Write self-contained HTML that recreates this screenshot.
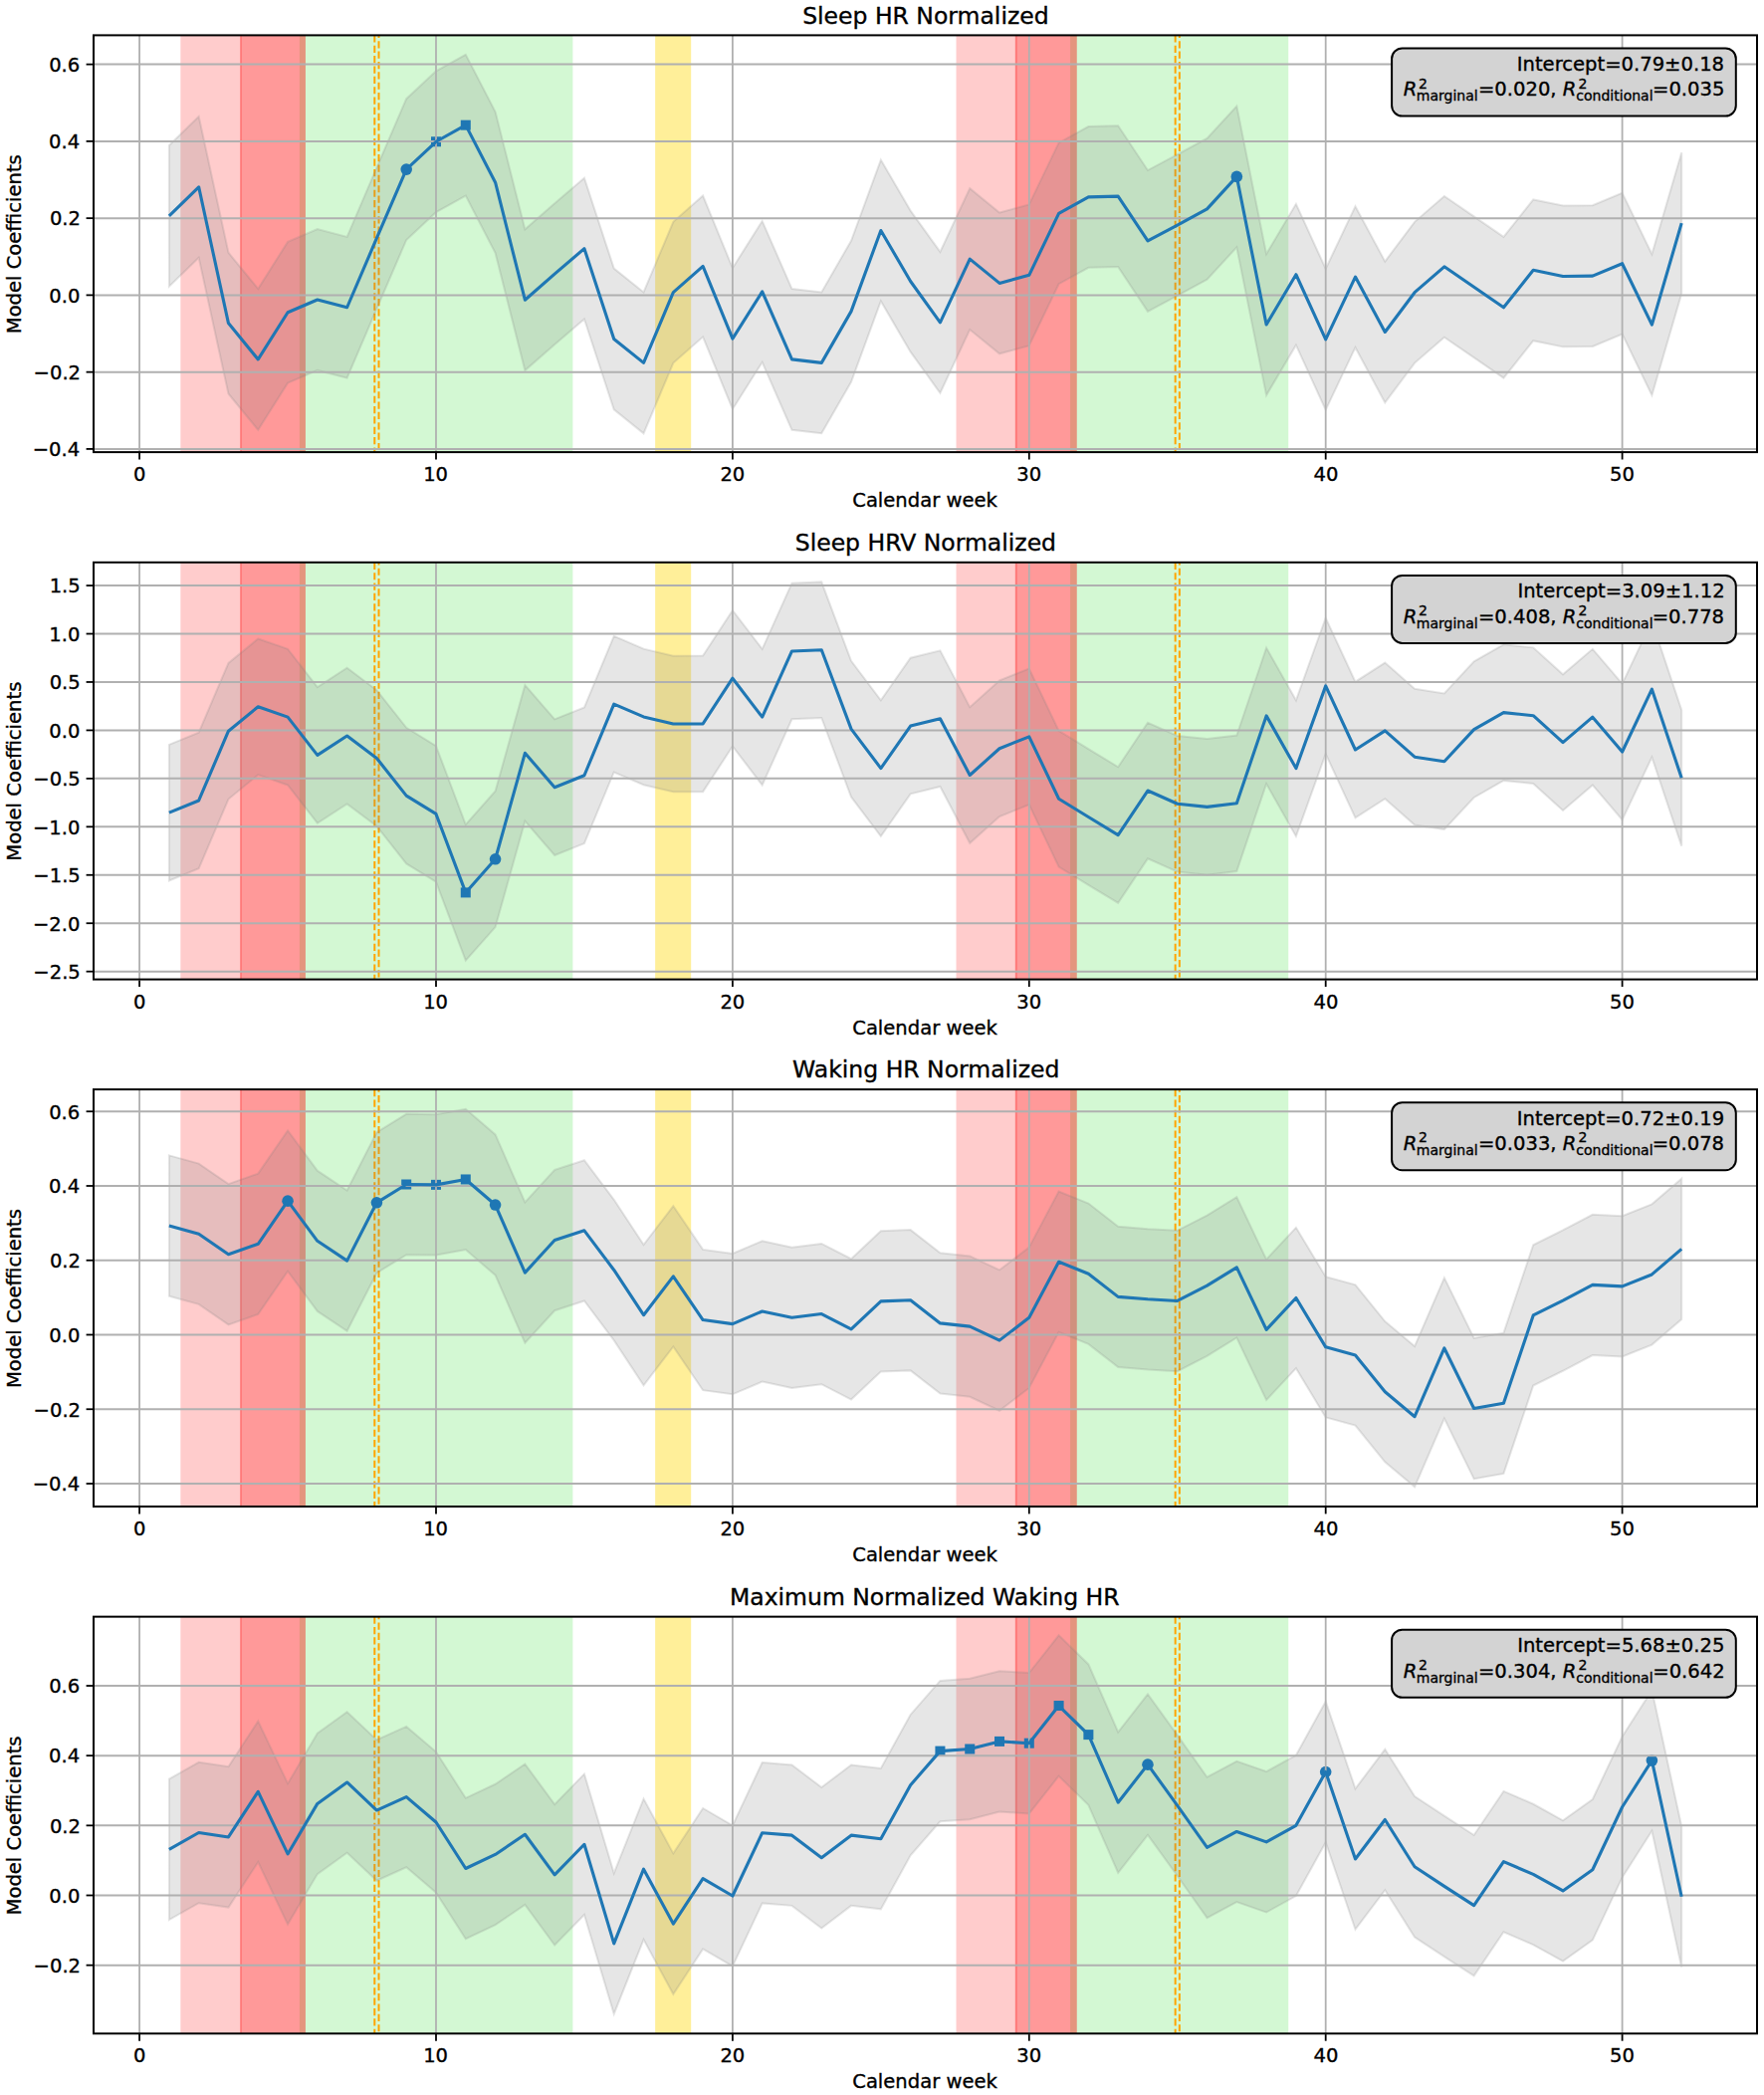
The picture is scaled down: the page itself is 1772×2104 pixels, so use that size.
<!DOCTYPE html>
<html><head><meta charset="utf-8"><title>Model Coefficients by Calendar week</title>
<style>html,body{margin:0;padding:0;background:#fff}svg{display:block}text{stroke:#000;stroke-width:.35px}</style></head>
<body>
<svg width="1772" height="2104" viewBox="0 0 1772 2104" font-family='"DejaVu Sans","Liberation Sans",sans-serif' font-size="20" fill="#000">
<rect width="1772" height="2104" fill="#fff"/>
<defs>
<clipPath id="c0"><rect x="94.0" y="35.4" width="1671.00" height="418.70"/></clipPath>
<clipPath id="c1"><rect x="94.0" y="564.8" width="1671.00" height="418.80"/></clipPath>
<clipPath id="c2"><rect x="94.0" y="1094.1" width="1671.00" height="418.90"/></clipPath>
<clipPath id="c3"><rect x="94.0" y="1623.65" width="1671.00" height="418.65"/></clipPath>
</defs>
<g clip-path="url(#c0)">
<rect x="300.88" y="35.4" width="274.46" height="418.70" fill="#90ee90" fill-opacity="0.4"/>
<rect x="1075.06" y="35.4" width="219.19" height="418.70" fill="#90ee90" fill-opacity="0.4"/>
<rect x="658.15" y="35.4" width="36.05" height="418.70" fill="#ffd700" fill-opacity="0.4"/>
<rect x="181.33" y="35.4" width="61.67" height="418.70" fill="#ff0000" fill-opacity="0.2"/>
<rect x="241.18" y="35.4" width="65.75" height="418.70" fill="#ff0000" fill-opacity="0.4"/>
<rect x="960.52" y="35.4" width="61.37" height="418.70" fill="#ff0000" fill-opacity="0.2"/>
<rect x="1019.80" y="35.4" width="61.96" height="418.70" fill="#ff0000" fill-opacity="0.4"/>
<line x1="376.30" x2="376.30" y1="35.4" y2="454.1" stroke="#ffa500" stroke-width="2" stroke-dasharray="7.22 3.13" stroke-dashoffset="0"/>
<line x1="380.51" x2="380.51" y1="35.4" y2="454.1" stroke="#ffa500" stroke-width="2" stroke-dasharray="7.22 3.13" stroke-dashoffset="4.5"/>
<line x1="1180.66" x2="1180.66" y1="35.4" y2="454.1" stroke="#ffa500" stroke-width="2" stroke-dasharray="7.22 3.13" stroke-dashoffset="0"/>
<line x1="1184.84" x2="1184.84" y1="35.4" y2="454.1" stroke="#ffa500" stroke-width="2" stroke-dasharray="7.22 3.13" stroke-dashoffset="4.5"/>
<polygon points="169.89,145.94 199.68,116.96 229.47,253.71 259.26,290.03 289.05,242.90 318.84,230.15 348.63,237.88 378.42,168.34 408.21,99.19 438.00,71.38 467.79,54.77 497.58,112.33 527.37,230.34 557.16,204.27 586.95,178.77 616.74,269.55 646.53,293.50 676.32,222.81 706.11,196.54 735.90,269.17 765.69,222.04 795.48,290.03 825.27,293.50 855.06,241.74 884.85,160.62 914.64,211.61 944.43,252.94 974.22,189.20 1004.01,213.54 1033.80,205.43 1063.59,143.43 1093.38,127.01 1123.17,126.23 1152.96,171.05 1182.75,155.21 1212.54,138.98 1242.33,106.53 1272.12,255.10 1301.91,204.85 1331.70,269.94 1361.49,207.16 1391.28,262.60 1421.07,222.81 1450.86,196.93 1480.65,217.40 1510.44,237.88 1540.23,200.40 1570.02,206.59 1599.81,206.20 1629.60,193.84 1659.39,255.26 1689.18,153.28 1689.18,295.05 1659.39,397.03 1629.60,335.61 1599.81,347.97 1570.02,348.36 1540.23,342.18 1510.44,379.65 1480.65,359.17 1450.86,338.70 1421.07,364.58 1391.28,404.37 1361.49,348.94 1331.70,411.71 1301.91,346.62 1272.12,396.88 1242.33,248.31 1212.54,280.75 1182.75,296.98 1152.96,312.82 1123.17,268.01 1093.38,268.78 1063.59,285.20 1033.80,347.20 1004.01,355.31 974.22,330.97 944.43,394.71 914.64,353.38 884.85,302.39 855.06,383.51 825.27,435.27 795.48,431.80 765.69,363.81 735.90,410.94 706.11,338.31 676.32,364.58 646.53,435.27 616.74,411.32 586.95,320.54 557.16,346.04 527.37,372.11 497.58,254.10 467.79,196.54 438.00,213.15 408.21,240.97 378.42,310.11 348.63,379.65 318.84,371.92 289.05,384.67 259.26,431.80 229.47,395.49 199.68,258.74 169.89,287.71" fill="#808080" fill-opacity="0.2" stroke="#808080" stroke-opacity="0.2" stroke-width="2" stroke-linejoin="miter"/>
<circle cx="408.21" cy="170.08" r="5.8" fill="#1f77b4"/>
<circle cx="1242.33" cy="177.42" r="5.8" fill="#1f77b4"/>
<rect x="433.00" y="137.27" width="10" height="10" fill="#1f77b4"/>
<rect x="462.79" y="120.66" width="10" height="10" fill="#1f77b4"/>
<line x1="140.10" x2="140.10" y1="35.4" y2="454.1" stroke="#b0b0b0" stroke-width="1.8"/>
<line x1="438.00" x2="438.00" y1="35.4" y2="454.1" stroke="#b0b0b0" stroke-width="1.8"/>
<line x1="735.90" x2="735.90" y1="35.4" y2="454.1" stroke="#b0b0b0" stroke-width="1.8"/>
<line x1="1033.80" x2="1033.80" y1="35.4" y2="454.1" stroke="#b0b0b0" stroke-width="1.8"/>
<line x1="1331.70" x2="1331.70" y1="35.4" y2="454.1" stroke="#b0b0b0" stroke-width="1.8"/>
<line x1="1629.60" x2="1629.60" y1="35.4" y2="454.1" stroke="#b0b0b0" stroke-width="1.8"/>
<line x1="94.0" x2="1765.0" y1="64.62" y2="64.62" stroke="#b0b0b0" stroke-width="2"/>
<line x1="94.0" x2="1765.0" y1="141.88" y2="141.88" stroke="#b0b0b0" stroke-width="2"/>
<line x1="94.0" x2="1765.0" y1="219.14" y2="219.14" stroke="#b0b0b0" stroke-width="2"/>
<line x1="94.0" x2="1765.0" y1="296.40" y2="296.40" stroke="#b0b0b0" stroke-width="2"/>
<line x1="94.0" x2="1765.0" y1="373.66" y2="373.66" stroke="#b0b0b0" stroke-width="2"/>
<line x1="94.0" x2="1765.0" y1="450.92" y2="450.92" stroke="#b0b0b0" stroke-width="2"/>
<polyline points="169.89,216.82 199.68,187.85 229.47,324.60 259.26,360.91 289.05,313.78 318.84,301.04 348.63,308.76 378.42,239.23 408.21,170.08 438.00,142.27 467.79,125.66 497.58,183.21 527.37,301.23 557.16,275.15 586.95,249.66 616.74,340.44 646.53,364.39 676.32,293.70 706.11,267.43 735.90,340.05 765.69,292.92 795.48,360.91 825.27,364.39 855.06,312.62 884.85,231.50 914.64,282.49 944.43,323.83 974.22,260.09 1004.01,284.42 1033.80,276.31 1063.59,214.31 1093.38,197.89 1123.17,197.12 1152.96,241.93 1182.75,226.09 1212.54,209.87 1242.33,177.42 1272.12,325.99 1301.91,275.73 1331.70,340.82 1361.49,278.05 1391.28,333.48 1421.07,293.70 1450.86,267.81 1480.65,288.29 1510.44,308.76 1540.23,271.29 1570.02,277.47 1599.81,277.08 1629.60,264.72 1659.39,326.15 1689.18,224.16" fill="none" stroke="#1f77b4" stroke-width="3.1" stroke-linejoin="round" stroke-linecap="butt"/>
</g>
<rect x="94.0" y="35.4" width="1671.00" height="418.70" fill="none" stroke="#000" stroke-width="2"/>
<line x1="140.10" x2="140.10" y1="454.90" y2="461.50" stroke="#000" stroke-width="1.8"/>
<text transform="translate(133.88,483.10)" font-size="19.57">0</text>
<line x1="438.00" x2="438.00" y1="454.90" y2="461.50" stroke="#000" stroke-width="1.8"/>
<text transform="translate(425.16,483.10)" font-size="19.57">10</text>
<line x1="735.90" x2="735.90" y1="454.90" y2="461.50" stroke="#000" stroke-width="1.8"/>
<text transform="translate(723.40,483.10)" font-size="19.57">20</text>
<line x1="1033.80" x2="1033.80" y1="454.90" y2="461.50" stroke="#000" stroke-width="1.8"/>
<text transform="translate(1021.27,483.10)" font-size="19.57">30</text>
<line x1="1331.70" x2="1331.70" y1="454.90" y2="461.50" stroke="#000" stroke-width="1.8"/>
<text transform="translate(1319.45,483.10)" font-size="19.57">40</text>
<line x1="1629.60" x2="1629.60" y1="454.90" y2="461.50" stroke="#000" stroke-width="1.8"/>
<text transform="translate(1617.07,483.10)" font-size="19.57">50</text>
<line x1="86.60" x2="93.20" y1="64.62" y2="64.62" stroke="#000" stroke-width="1.8"/>
<text transform="translate(49.16,71.92)" font-size="19.57">0.6</text>
<line x1="86.60" x2="93.20" y1="141.88" y2="141.88" stroke="#000" stroke-width="1.8"/>
<text transform="translate(49.04,149.18)" font-size="19.57">0.4</text>
<line x1="86.60" x2="93.20" y1="219.14" y2="219.14" stroke="#000" stroke-width="1.8"/>
<text transform="translate(49.91,226.44)" font-size="19.57">0.2</text>
<line x1="86.60" x2="93.20" y1="296.40" y2="296.40" stroke="#000" stroke-width="1.8"/>
<text transform="translate(49.29,303.70)" font-size="19.57">0.0</text>
<line x1="86.60" x2="93.20" y1="373.66" y2="373.66" stroke="#000" stroke-width="1.8"/>
<text transform="translate(33.54,380.96)" font-size="19.57">−0.2</text>
<line x1="86.60" x2="93.20" y1="450.92" y2="450.92" stroke="#000" stroke-width="1.8"/>
<text transform="translate(32.66,458.22)" font-size="19.57">−0.4</text>
<text transform="translate(806.13,23.70)" font-size="23.5">Sleep HR Normalized</text>
<text transform="translate(856.22,509.10)" font-size="19.57">Calendar week</text>
<text transform="translate(20.80,335.25) rotate(-90)" font-size="19.57">Model Coefficients</text>
<rect x="1398.1" y="48.50" width="345.7" height="68.0" rx="10.5" ry="10.5" fill="#d3d3d3" stroke="#000" stroke-width="2"/>
<text transform="translate(1523.76,70.90)" font-size="19.57">Intercept=0.79±0.18</text>
<text transform="translate(1409.80,96.40)" font-size="19.57" font-style="italic">R</text>
<text transform="translate(1424.90,88.60)" font-size="14.0">2</text>
<text transform="translate(1422.85,101.30)" font-size="14.0">marginal</text>
<text transform="translate(1484.94,96.40)" font-size="19.57">=0.020,</text>
<text transform="translate(1569.80,96.40)" font-size="19.57" font-style="italic">R</text>
<text transform="translate(1585.60,88.60)" font-size="14.0">2</text>
<text transform="translate(1583.35,101.30)" font-size="14.0">conditional</text>
<text transform="translate(1660.01,96.40)" font-size="19.57">=0.035</text>
<g clip-path="url(#c1)">
<rect x="300.88" y="564.8" width="274.46" height="418.80" fill="#90ee90" fill-opacity="0.4"/>
<rect x="1075.06" y="564.8" width="219.19" height="418.80" fill="#90ee90" fill-opacity="0.4"/>
<rect x="658.15" y="564.8" width="36.05" height="418.80" fill="#ffd700" fill-opacity="0.4"/>
<rect x="181.33" y="564.8" width="61.67" height="418.80" fill="#ff0000" fill-opacity="0.2"/>
<rect x="241.18" y="564.8" width="65.75" height="418.80" fill="#ff0000" fill-opacity="0.4"/>
<rect x="960.52" y="564.8" width="61.37" height="418.80" fill="#ff0000" fill-opacity="0.2"/>
<rect x="1019.80" y="564.8" width="61.96" height="418.80" fill="#ff0000" fill-opacity="0.4"/>
<line x1="376.30" x2="376.30" y1="564.8" y2="983.6" stroke="#ffa500" stroke-width="2" stroke-dasharray="7.22 3.13" stroke-dashoffset="0"/>
<line x1="380.51" x2="380.51" y1="564.8" y2="983.6" stroke="#ffa500" stroke-width="2" stroke-dasharray="7.22 3.13" stroke-dashoffset="4.5"/>
<line x1="1180.66" x2="1180.66" y1="564.8" y2="983.6" stroke="#ffa500" stroke-width="2" stroke-dasharray="7.22 3.13" stroke-dashoffset="0"/>
<line x1="1184.84" x2="1184.84" y1="564.8" y2="983.6" stroke="#ffa500" stroke-width="2" stroke-dasharray="7.22 3.13" stroke-dashoffset="4.5"/>
<polygon points="169.89,747.86 199.68,735.65 229.47,665.88 259.26,641.46 289.05,651.83 318.84,690.11 348.63,670.73 378.42,693.11 408.21,730.80 438.00,749.12 467.79,828.09 497.58,794.47 527.37,688.02 557.16,722.37 586.95,710.45 616.74,638.85 646.53,651.64 676.32,658.71 706.11,658.52 735.90,612.88 765.69,651.83 795.48,585.65 825.27,584.39 855.06,663.85 884.85,703.28 914.64,660.74 944.43,653.38 974.22,710.16 1004.01,683.42 1033.80,671.50 1063.59,733.90 1093.38,752.22 1123.17,770.24 1152.96,725.72 1182.75,738.94 1212.54,742.04 1242.33,738.46 1272.12,650.57 1301.91,703.28 1331.70,620.53 1361.49,684.68 1391.28,665.59 1421.07,691.85 1450.86,696.40 1480.65,664.33 1510.44,647.28 1540.23,650.38 1570.02,677.31 1599.81,651.83 1629.60,686.71 1659.39,623.83 1689.18,712.97 1689.18,849.60 1659.39,760.46 1629.60,823.34 1599.81,788.46 1570.02,813.94 1540.23,787.01 1510.44,783.90 1480.65,800.96 1450.86,833.03 1421.07,828.48 1391.28,802.22 1361.49,821.31 1331.70,757.16 1301.91,839.91 1272.12,787.20 1242.33,875.09 1212.54,878.67 1182.75,875.57 1152.96,862.35 1123.17,906.87 1093.38,888.85 1063.59,870.53 1033.80,808.13 1004.01,820.05 974.22,846.79 944.43,790.01 914.64,797.37 884.85,839.91 855.06,800.47 825.27,721.02 795.48,722.28 765.69,788.46 735.90,749.51 706.11,795.15 676.32,795.34 646.53,788.27 616.74,775.47 586.95,847.08 557.16,859.00 527.37,824.65 497.58,931.10 467.79,964.72 438.00,885.75 408.21,867.43 378.42,829.74 348.63,807.35 318.84,826.73 289.05,788.46 259.26,778.09 229.47,802.51 199.68,872.28 169.89,884.49" fill="#808080" fill-opacity="0.2" stroke="#808080" stroke-opacity="0.2" stroke-width="2" stroke-linejoin="miter"/>
<circle cx="497.58" cy="862.78" r="5.8" fill="#1f77b4"/>
<rect x="462.79" y="891.41" width="10" height="10" fill="#1f77b4"/>
<line x1="140.10" x2="140.10" y1="564.8" y2="983.6" stroke="#b0b0b0" stroke-width="1.8"/>
<line x1="438.00" x2="438.00" y1="564.8" y2="983.6" stroke="#b0b0b0" stroke-width="1.8"/>
<line x1="735.90" x2="735.90" y1="564.8" y2="983.6" stroke="#b0b0b0" stroke-width="1.8"/>
<line x1="1033.80" x2="1033.80" y1="564.8" y2="983.6" stroke="#b0b0b0" stroke-width="1.8"/>
<line x1="1331.70" x2="1331.70" y1="564.8" y2="983.6" stroke="#b0b0b0" stroke-width="1.8"/>
<line x1="1629.60" x2="1629.60" y1="564.8" y2="983.6" stroke="#b0b0b0" stroke-width="1.8"/>
<line x1="94.0" x2="1765.0" y1="588.07" y2="588.07" stroke="#b0b0b0" stroke-width="2"/>
<line x1="94.0" x2="1765.0" y1="636.52" y2="636.52" stroke="#b0b0b0" stroke-width="2"/>
<line x1="94.0" x2="1765.0" y1="684.97" y2="684.97" stroke="#b0b0b0" stroke-width="2"/>
<line x1="94.0" x2="1765.0" y1="733.42" y2="733.42" stroke="#b0b0b0" stroke-width="2"/>
<line x1="94.0" x2="1765.0" y1="781.87" y2="781.87" stroke="#b0b0b0" stroke-width="2"/>
<line x1="94.0" x2="1765.0" y1="830.32" y2="830.32" stroke="#b0b0b0" stroke-width="2"/>
<line x1="94.0" x2="1765.0" y1="878.77" y2="878.77" stroke="#b0b0b0" stroke-width="2"/>
<line x1="94.0" x2="1765.0" y1="927.22" y2="927.22" stroke="#b0b0b0" stroke-width="2"/>
<line x1="94.0" x2="1765.0" y1="975.67" y2="975.67" stroke="#b0b0b0" stroke-width="2"/>
<polyline points="169.89,816.17 199.68,803.96 229.47,734.20 259.26,709.78 289.05,720.14 318.84,758.42 348.63,739.04 378.42,761.42 408.21,799.12 438.00,817.43 467.79,896.41 497.58,862.78 527.37,756.34 557.16,790.69 586.95,778.77 616.74,707.16 646.53,719.95 676.32,727.02 706.11,726.83 735.90,681.19 765.69,720.14 795.48,653.96 825.27,652.70 855.06,732.16 884.85,771.60 914.64,729.06 944.43,721.70 974.22,778.48 1004.01,751.73 1033.80,739.82 1063.59,802.22 1093.38,820.53 1123.17,838.56 1152.96,794.03 1182.75,807.26 1212.54,810.36 1242.33,806.77 1272.12,718.88 1301.91,771.60 1331.70,688.85 1361.49,752.99 1391.28,733.90 1421.07,760.16 1450.86,764.72 1480.65,732.64 1510.44,715.59 1540.23,718.69 1570.02,745.63 1599.81,720.14 1629.60,755.03 1659.39,692.14 1689.18,781.29" fill="none" stroke="#1f77b4" stroke-width="3.1" stroke-linejoin="round" stroke-linecap="butt"/>
</g>
<rect x="94.0" y="564.8" width="1671.00" height="418.80" fill="none" stroke="#000" stroke-width="2"/>
<line x1="140.10" x2="140.10" y1="984.40" y2="991.00" stroke="#000" stroke-width="1.8"/>
<text transform="translate(133.88,1012.60)" font-size="19.57">0</text>
<line x1="438.00" x2="438.00" y1="984.40" y2="991.00" stroke="#000" stroke-width="1.8"/>
<text transform="translate(425.16,1012.60)" font-size="19.57">10</text>
<line x1="735.90" x2="735.90" y1="984.40" y2="991.00" stroke="#000" stroke-width="1.8"/>
<text transform="translate(723.40,1012.60)" font-size="19.57">20</text>
<line x1="1033.80" x2="1033.80" y1="984.40" y2="991.00" stroke="#000" stroke-width="1.8"/>
<text transform="translate(1021.27,1012.60)" font-size="19.57">30</text>
<line x1="1331.70" x2="1331.70" y1="984.40" y2="991.00" stroke="#000" stroke-width="1.8"/>
<text transform="translate(1319.45,1012.60)" font-size="19.57">40</text>
<line x1="1629.60" x2="1629.60" y1="984.40" y2="991.00" stroke="#000" stroke-width="1.8"/>
<text transform="translate(1617.07,1012.60)" font-size="19.57">50</text>
<line x1="86.60" x2="93.20" y1="588.07" y2="588.07" stroke="#000" stroke-width="1.8"/>
<text transform="translate(49.66,595.37)" font-size="19.57">1.5</text>
<line x1="86.60" x2="93.20" y1="636.52" y2="636.52" stroke="#000" stroke-width="1.8"/>
<text transform="translate(49.29,643.82)" font-size="19.57">1.0</text>
<line x1="86.60" x2="93.20" y1="684.97" y2="684.97" stroke="#000" stroke-width="1.8"/>
<text transform="translate(49.66,692.27)" font-size="19.57">0.5</text>
<line x1="86.60" x2="93.20" y1="733.42" y2="733.42" stroke="#000" stroke-width="1.8"/>
<text transform="translate(49.29,740.72)" font-size="19.57">0.0</text>
<line x1="86.60" x2="93.20" y1="781.87" y2="781.87" stroke="#000" stroke-width="1.8"/>
<text transform="translate(33.29,789.17)" font-size="19.57">−0.5</text>
<line x1="86.60" x2="93.20" y1="830.32" y2="830.32" stroke="#000" stroke-width="1.8"/>
<text transform="translate(32.91,837.62)" font-size="19.57">−1.0</text>
<line x1="86.60" x2="93.20" y1="878.77" y2="878.77" stroke="#000" stroke-width="1.8"/>
<text transform="translate(33.29,886.07)" font-size="19.57">−1.5</text>
<line x1="86.60" x2="93.20" y1="927.22" y2="927.22" stroke="#000" stroke-width="1.8"/>
<text transform="translate(32.91,934.52)" font-size="19.57">−2.0</text>
<line x1="86.60" x2="93.20" y1="975.67" y2="975.67" stroke="#000" stroke-width="1.8"/>
<text transform="translate(33.29,982.97)" font-size="19.57">−2.5</text>
<text transform="translate(798.73,553.10)" font-size="23.5">Sleep HRV Normalized</text>
<text transform="translate(856.22,1038.60)" font-size="19.57">Calendar week</text>
<text transform="translate(20.80,864.70) rotate(-90)" font-size="19.57">Model Coefficients</text>
<rect x="1398.1" y="577.90" width="345.7" height="68.0" rx="10.5" ry="10.5" fill="#d3d3d3" stroke="#000" stroke-width="2"/>
<text transform="translate(1524.39,600.30)" font-size="19.57">Intercept=3.09±1.12</text>
<text transform="translate(1409.80,625.80)" font-size="19.57" font-style="italic">R</text>
<text transform="translate(1424.90,618.00)" font-size="14.0">2</text>
<text transform="translate(1422.85,630.70)" font-size="14.0">marginal</text>
<text transform="translate(1484.94,625.80)" font-size="19.57">=0.408,</text>
<text transform="translate(1569.80,625.80)" font-size="19.57" font-style="italic">R</text>
<text transform="translate(1585.60,618.00)" font-size="14.0">2</text>
<text transform="translate(1583.35,630.70)" font-size="14.0">conditional</text>
<text transform="translate(1659.64,625.80)" font-size="19.57">=0.778</text>
<g clip-path="url(#c2)">
<rect x="300.88" y="1094.1" width="274.46" height="418.90" fill="#90ee90" fill-opacity="0.4"/>
<rect x="1075.06" y="1094.1" width="219.19" height="418.90" fill="#90ee90" fill-opacity="0.4"/>
<rect x="658.15" y="1094.1" width="36.05" height="418.90" fill="#ffd700" fill-opacity="0.4"/>
<rect x="181.33" y="1094.1" width="61.67" height="418.90" fill="#ff0000" fill-opacity="0.2"/>
<rect x="241.18" y="1094.1" width="65.75" height="418.90" fill="#ff0000" fill-opacity="0.4"/>
<rect x="960.52" y="1094.1" width="61.37" height="418.90" fill="#ff0000" fill-opacity="0.2"/>
<rect x="1019.80" y="1094.1" width="61.96" height="418.90" fill="#ff0000" fill-opacity="0.4"/>
<line x1="376.30" x2="376.30" y1="1094.1" y2="1513.0" stroke="#ffa500" stroke-width="2" stroke-dasharray="7.22 3.13" stroke-dashoffset="0"/>
<line x1="380.51" x2="380.51" y1="1094.1" y2="1513.0" stroke="#ffa500" stroke-width="2" stroke-dasharray="7.22 3.13" stroke-dashoffset="4.5"/>
<line x1="1180.66" x2="1180.66" y1="1094.1" y2="1513.0" stroke="#ffa500" stroke-width="2" stroke-dasharray="7.22 3.13" stroke-dashoffset="0"/>
<line x1="1184.84" x2="1184.84" y1="1094.1" y2="1513.0" stroke="#ffa500" stroke-width="2" stroke-dasharray="7.22 3.13" stroke-dashoffset="4.5"/>
<polygon points="169.89,1160.34 199.68,1168.57 229.47,1189.12 259.26,1178.66 289.05,1135.49 318.84,1175.67 348.63,1195.48 378.42,1137.17 408.21,1118.85 438.00,1119.23 467.79,1113.81 497.58,1139.41 527.37,1207.44 557.16,1174.92 586.95,1165.20 616.74,1204.82 646.53,1250.05 676.32,1211.18 706.11,1254.91 735.90,1259.02 765.69,1246.31 795.48,1252.66 825.27,1248.93 855.06,1264.25 884.85,1236.22 914.64,1235.10 944.43,1258.27 974.22,1261.45 1004.01,1275.46 1033.80,1252.66 1063.59,1196.60 1093.38,1208.56 1123.17,1231.73 1152.96,1234.16 1182.75,1235.84 1212.54,1220.52 1242.33,1202.21 1272.12,1264.77 1301.91,1232.85 1331.70,1282.19 1361.49,1290.27 1391.28,1327.04 1421.07,1352.09 1450.86,1283.31 1480.65,1343.86 1510.44,1338.63 1540.23,1250.23 1570.02,1235.47 1599.81,1219.77 1629.60,1221.27 1659.39,1209.31 1689.18,1183.67 1689.18,1324.95 1659.39,1350.59 1629.60,1362.55 1599.81,1361.06 1570.02,1376.76 1540.23,1391.52 1510.44,1479.92 1480.65,1485.15 1450.86,1424.60 1421.07,1493.37 1391.28,1468.33 1361.49,1431.55 1331.70,1423.48 1301.91,1374.14 1272.12,1406.06 1242.33,1343.49 1212.54,1361.80 1182.75,1377.13 1152.96,1375.45 1123.17,1373.02 1093.38,1349.84 1063.59,1337.88 1033.80,1393.95 1004.01,1416.75 974.22,1402.73 944.43,1399.56 914.64,1376.38 884.85,1377.50 855.06,1405.54 825.27,1390.21 795.48,1393.95 765.69,1387.60 735.90,1400.30 706.11,1396.19 676.32,1352.46 646.53,1391.33 616.74,1346.11 586.95,1306.49 557.16,1316.20 527.37,1348.72 497.58,1280.70 467.79,1255.09 438.00,1260.51 408.21,1260.14 378.42,1278.45 348.63,1336.76 318.84,1316.95 289.05,1276.77 259.26,1319.94 229.47,1330.41 199.68,1309.85 169.89,1301.63" fill="#808080" fill-opacity="0.2" stroke="#808080" stroke-opacity="0.2" stroke-width="2" stroke-linejoin="miter"/>
<circle cx="289.05" cy="1206.13" r="5.8" fill="#1f77b4"/>
<circle cx="378.42" cy="1207.81" r="5.8" fill="#1f77b4"/>
<circle cx="497.58" cy="1210.05" r="5.8" fill="#1f77b4"/>
<rect x="403.21" y="1184.50" width="10" height="10" fill="#1f77b4"/>
<rect x="433.00" y="1184.87" width="10" height="10" fill="#1f77b4"/>
<rect x="462.79" y="1179.45" width="10" height="10" fill="#1f77b4"/>
<line x1="140.10" x2="140.10" y1="1094.1" y2="1513.0" stroke="#b0b0b0" stroke-width="1.8"/>
<line x1="438.00" x2="438.00" y1="1094.1" y2="1513.0" stroke="#b0b0b0" stroke-width="1.8"/>
<line x1="735.90" x2="735.90" y1="1094.1" y2="1513.0" stroke="#b0b0b0" stroke-width="1.8"/>
<line x1="1033.80" x2="1033.80" y1="1094.1" y2="1513.0" stroke="#b0b0b0" stroke-width="1.8"/>
<line x1="1331.70" x2="1331.70" y1="1094.1" y2="1513.0" stroke="#b0b0b0" stroke-width="1.8"/>
<line x1="1629.60" x2="1629.60" y1="1094.1" y2="1513.0" stroke="#b0b0b0" stroke-width="1.8"/>
<line x1="94.0" x2="1765.0" y1="1116.24" y2="1116.24" stroke="#b0b0b0" stroke-width="2"/>
<line x1="94.0" x2="1765.0" y1="1190.99" y2="1190.99" stroke="#b0b0b0" stroke-width="2"/>
<line x1="94.0" x2="1765.0" y1="1265.75" y2="1265.75" stroke="#b0b0b0" stroke-width="2"/>
<line x1="94.0" x2="1765.0" y1="1340.50" y2="1340.50" stroke="#b0b0b0" stroke-width="2"/>
<line x1="94.0" x2="1765.0" y1="1415.25" y2="1415.25" stroke="#b0b0b0" stroke-width="2"/>
<line x1="94.0" x2="1765.0" y1="1490.01" y2="1490.01" stroke="#b0b0b0" stroke-width="2"/>
<polyline points="169.89,1230.99 199.68,1239.21 229.47,1259.77 259.26,1249.30 289.05,1206.13 318.84,1246.31 348.63,1266.12 378.42,1207.81 408.21,1189.50 438.00,1189.87 467.79,1184.45 497.58,1210.05 527.37,1278.08 557.16,1245.56 586.95,1235.84 616.74,1275.46 646.53,1320.69 676.32,1281.82 706.11,1325.55 735.90,1329.66 765.69,1316.95 795.48,1323.31 825.27,1319.57 855.06,1334.89 884.85,1306.86 914.64,1305.74 944.43,1328.91 974.22,1332.09 1004.01,1346.11 1033.80,1323.31 1063.59,1267.24 1093.38,1279.20 1123.17,1302.38 1152.96,1304.80 1182.75,1306.49 1212.54,1291.16 1242.33,1272.85 1272.12,1335.42 1301.91,1303.50 1331.70,1352.83 1361.49,1360.91 1391.28,1397.69 1421.07,1422.73 1450.86,1353.96 1480.65,1414.51 1510.44,1409.27 1540.23,1320.88 1570.02,1306.11 1599.81,1290.41 1629.60,1291.91 1659.39,1279.95 1689.18,1254.31" fill="none" stroke="#1f77b4" stroke-width="3.1" stroke-linejoin="round" stroke-linecap="butt"/>
</g>
<rect x="94.0" y="1094.1" width="1671.00" height="418.90" fill="none" stroke="#000" stroke-width="2"/>
<line x1="140.10" x2="140.10" y1="1513.80" y2="1520.40" stroke="#000" stroke-width="1.8"/>
<text transform="translate(133.88,1542.00)" font-size="19.57">0</text>
<line x1="438.00" x2="438.00" y1="1513.80" y2="1520.40" stroke="#000" stroke-width="1.8"/>
<text transform="translate(425.16,1542.00)" font-size="19.57">10</text>
<line x1="735.90" x2="735.90" y1="1513.80" y2="1520.40" stroke="#000" stroke-width="1.8"/>
<text transform="translate(723.40,1542.00)" font-size="19.57">20</text>
<line x1="1033.80" x2="1033.80" y1="1513.80" y2="1520.40" stroke="#000" stroke-width="1.8"/>
<text transform="translate(1021.27,1542.00)" font-size="19.57">30</text>
<line x1="1331.70" x2="1331.70" y1="1513.80" y2="1520.40" stroke="#000" stroke-width="1.8"/>
<text transform="translate(1319.45,1542.00)" font-size="19.57">40</text>
<line x1="1629.60" x2="1629.60" y1="1513.80" y2="1520.40" stroke="#000" stroke-width="1.8"/>
<text transform="translate(1617.07,1542.00)" font-size="19.57">50</text>
<line x1="86.60" x2="93.20" y1="1116.24" y2="1116.24" stroke="#000" stroke-width="1.8"/>
<text transform="translate(49.16,1123.54)" font-size="19.57">0.6</text>
<line x1="86.60" x2="93.20" y1="1190.99" y2="1190.99" stroke="#000" stroke-width="1.8"/>
<text transform="translate(49.04,1198.29)" font-size="19.57">0.4</text>
<line x1="86.60" x2="93.20" y1="1265.75" y2="1265.75" stroke="#000" stroke-width="1.8"/>
<text transform="translate(49.91,1273.05)" font-size="19.57">0.2</text>
<line x1="86.60" x2="93.20" y1="1340.50" y2="1340.50" stroke="#000" stroke-width="1.8"/>
<text transform="translate(49.29,1347.80)" font-size="19.57">0.0</text>
<line x1="86.60" x2="93.20" y1="1415.25" y2="1415.25" stroke="#000" stroke-width="1.8"/>
<text transform="translate(33.54,1422.55)" font-size="19.57">−0.2</text>
<line x1="86.60" x2="93.20" y1="1490.01" y2="1490.01" stroke="#000" stroke-width="1.8"/>
<text transform="translate(32.66,1497.31)" font-size="19.57">−0.4</text>
<text transform="translate(796.10,1082.40)" font-size="23.5">Waking HR Normalized</text>
<text transform="translate(856.22,1568.00)" font-size="19.57">Calendar week</text>
<text transform="translate(20.80,1394.05) rotate(-90)" font-size="19.57">Model Coefficients</text>
<rect x="1398.1" y="1107.20" width="345.7" height="68.0" rx="10.5" ry="10.5" fill="#d3d3d3" stroke="#000" stroke-width="2"/>
<text transform="translate(1523.83,1129.60)" font-size="19.57">Intercept=0.72±0.19</text>
<text transform="translate(1409.80,1155.10)" font-size="19.57" font-style="italic">R</text>
<text transform="translate(1424.90,1147.30)" font-size="14.0">2</text>
<text transform="translate(1422.85,1160.00)" font-size="14.0">marginal</text>
<text transform="translate(1484.94,1155.10)" font-size="19.57">=0.033,</text>
<text transform="translate(1569.80,1155.10)" font-size="19.57" font-style="italic">R</text>
<text transform="translate(1585.60,1147.30)" font-size="14.0">2</text>
<text transform="translate(1583.35,1160.00)" font-size="14.0">conditional</text>
<text transform="translate(1659.64,1155.10)" font-size="19.57">=0.078</text>
<g clip-path="url(#c3)">
<rect x="300.88" y="1623.65" width="274.46" height="418.65" fill="#90ee90" fill-opacity="0.4"/>
<rect x="1075.06" y="1623.65" width="219.19" height="418.65" fill="#90ee90" fill-opacity="0.4"/>
<rect x="658.15" y="1623.65" width="36.05" height="418.65" fill="#ffd700" fill-opacity="0.4"/>
<rect x="181.33" y="1623.65" width="61.67" height="418.65" fill="#ff0000" fill-opacity="0.2"/>
<rect x="241.18" y="1623.65" width="65.75" height="418.65" fill="#ff0000" fill-opacity="0.4"/>
<rect x="960.52" y="1623.65" width="61.37" height="418.65" fill="#ff0000" fill-opacity="0.2"/>
<rect x="1019.80" y="1623.65" width="61.96" height="418.65" fill="#ff0000" fill-opacity="0.4"/>
<line x1="376.30" x2="376.30" y1="1623.65" y2="2042.3" stroke="#ffa500" stroke-width="2" stroke-dasharray="7.22 3.13" stroke-dashoffset="0"/>
<line x1="380.51" x2="380.51" y1="1623.65" y2="2042.3" stroke="#ffa500" stroke-width="2" stroke-dasharray="7.22 3.13" stroke-dashoffset="4.5"/>
<line x1="1180.66" x2="1180.66" y1="1623.65" y2="2042.3" stroke="#ffa500" stroke-width="2" stroke-dasharray="7.22 3.13" stroke-dashoffset="0"/>
<line x1="1184.84" x2="1184.84" y1="1623.65" y2="2042.3" stroke="#ffa500" stroke-width="2" stroke-dasharray="7.22 3.13" stroke-dashoffset="4.5"/>
<polygon points="169.89,1786.65 199.68,1769.81 229.47,1774.23 259.26,1728.63 289.05,1791.24 318.84,1740.73 348.63,1719.29 378.42,1747.36 408.21,1733.89 438.00,1759.32 467.79,1805.80 497.58,1791.77 527.37,1771.60 557.16,1812.12 586.95,1781.60 616.74,1881.22 646.53,1806.50 676.32,1861.40 706.11,1815.98 735.90,1833.34 765.69,1770.02 795.48,1772.48 825.27,1795.07 855.06,1772.48 884.85,1775.98 914.64,1721.96 944.43,1687.93 974.22,1685.83 1004.01,1678.22 1033.80,1680.01 1063.59,1642.33 1093.38,1671.45 1123.17,1739.50 1152.96,1701.44 1182.75,1742.66 1212.54,1784.75 1242.33,1768.79 1272.12,1779.14 1301.91,1762.65 1331.70,1708.81 1361.49,1796.33 1391.28,1756.80 1421.07,1804.05 1450.86,1823.69 1480.65,1842.99 1510.44,1798.89 1540.23,1811.77 1570.02,1828.25 1599.81,1807.03 1629.60,1744.06 1659.39,1697.40 1689.18,1834.08 1689.18,1975.45 1659.39,1838.78 1629.60,1885.43 1599.81,1948.40 1570.02,1969.63 1540.23,1953.14 1510.44,1940.26 1480.65,1984.36 1450.86,1965.07 1421.07,1945.42 1391.28,1898.17 1361.49,1937.70 1331.70,1850.18 1301.91,1904.03 1272.12,1920.51 1242.33,1910.17 1212.54,1926.13 1182.75,1884.03 1152.96,1842.81 1123.17,1880.87 1093.38,1812.82 1063.59,1783.70 1033.80,1821.38 1004.01,1819.59 974.22,1827.20 944.43,1829.31 914.64,1863.33 884.85,1917.36 855.06,1913.85 825.27,1936.44 795.48,1913.85 765.69,1911.39 735.90,1974.71 706.11,1957.35 676.32,2002.78 646.53,1947.88 616.74,2022.60 586.95,1922.97 557.16,1953.49 527.37,1912.97 497.58,1933.14 467.79,1947.17 438.00,1900.69 408.21,1875.26 378.42,1888.73 348.63,1860.67 318.84,1882.10 289.05,1932.62 259.26,1870.00 229.47,1915.60 199.68,1911.18 169.89,1928.02" fill="#808080" fill-opacity="0.2" stroke="#808080" stroke-opacity="0.2" stroke-width="2" stroke-linejoin="miter"/>
<circle cx="1152.96" cy="1772.13" r="5.8" fill="#1f77b4"/>
<circle cx="1331.70" cy="1779.49" r="5.8" fill="#1f77b4"/>
<circle cx="1659.39" cy="1768.09" r="5.8" fill="#1f77b4"/>
<rect x="939.43" y="1753.62" width="10" height="10" fill="#1f77b4"/>
<rect x="969.22" y="1751.51" width="10" height="10" fill="#1f77b4"/>
<rect x="999.01" y="1743.90" width="10" height="10" fill="#1f77b4"/>
<rect x="1028.80" y="1745.69" width="10" height="10" fill="#1f77b4"/>
<rect x="1058.59" y="1708.02" width="10" height="10" fill="#1f77b4"/>
<rect x="1088.38" y="1737.13" width="10" height="10" fill="#1f77b4"/>
<line x1="140.10" x2="140.10" y1="1623.65" y2="2042.3" stroke="#b0b0b0" stroke-width="1.8"/>
<line x1="438.00" x2="438.00" y1="1623.65" y2="2042.3" stroke="#b0b0b0" stroke-width="1.8"/>
<line x1="735.90" x2="735.90" y1="1623.65" y2="2042.3" stroke="#b0b0b0" stroke-width="1.8"/>
<line x1="1033.80" x2="1033.80" y1="1623.65" y2="2042.3" stroke="#b0b0b0" stroke-width="1.8"/>
<line x1="1331.70" x2="1331.70" y1="1623.65" y2="2042.3" stroke="#b0b0b0" stroke-width="1.8"/>
<line x1="1629.60" x2="1629.60" y1="1623.65" y2="2042.3" stroke="#b0b0b0" stroke-width="1.8"/>
<line x1="94.0" x2="1765.0" y1="1693.02" y2="1693.02" stroke="#b0b0b0" stroke-width="2"/>
<line x1="94.0" x2="1765.0" y1="1763.18" y2="1763.18" stroke="#b0b0b0" stroke-width="2"/>
<line x1="94.0" x2="1765.0" y1="1833.34" y2="1833.34" stroke="#b0b0b0" stroke-width="2"/>
<line x1="94.0" x2="1765.0" y1="1903.50" y2="1903.50" stroke="#b0b0b0" stroke-width="2"/>
<line x1="94.0" x2="1765.0" y1="1973.66" y2="1973.66" stroke="#b0b0b0" stroke-width="2"/>
<polyline points="169.89,1857.33 199.68,1840.50 229.47,1844.92 259.26,1799.31 289.05,1861.93 318.84,1811.41 348.63,1789.98 378.42,1818.05 408.21,1804.57 438.00,1830.01 467.79,1876.49 497.58,1862.46 527.37,1842.29 557.16,1882.80 586.95,1852.28 616.74,1951.91 646.53,1877.19 676.32,1932.09 706.11,1886.66 735.90,1904.03 765.69,1840.71 795.48,1843.16 825.27,1865.75 855.06,1843.16 884.85,1846.67 914.64,1792.65 944.43,1758.62 974.22,1756.51 1004.01,1748.90 1033.80,1750.69 1063.59,1713.02 1093.38,1742.13 1123.17,1810.19 1152.96,1772.13 1182.75,1813.34 1212.54,1855.44 1242.33,1839.48 1272.12,1849.83 1301.91,1833.34 1331.70,1779.49 1361.49,1867.02 1391.28,1827.48 1421.07,1874.73 1450.86,1894.38 1480.65,1913.67 1510.44,1869.58 1540.23,1882.45 1570.02,1898.94 1599.81,1877.72 1629.60,1814.75 1659.39,1768.09 1689.18,1904.76" fill="none" stroke="#1f77b4" stroke-width="3.1" stroke-linejoin="round" stroke-linecap="butt"/>
</g>
<rect x="94.0" y="1623.65" width="1671.00" height="418.65" fill="none" stroke="#000" stroke-width="2"/>
<line x1="140.10" x2="140.10" y1="2043.10" y2="2049.70" stroke="#000" stroke-width="1.8"/>
<text transform="translate(133.88,2071.30)" font-size="19.57">0</text>
<line x1="438.00" x2="438.00" y1="2043.10" y2="2049.70" stroke="#000" stroke-width="1.8"/>
<text transform="translate(425.16,2071.30)" font-size="19.57">10</text>
<line x1="735.90" x2="735.90" y1="2043.10" y2="2049.70" stroke="#000" stroke-width="1.8"/>
<text transform="translate(723.40,2071.30)" font-size="19.57">20</text>
<line x1="1033.80" x2="1033.80" y1="2043.10" y2="2049.70" stroke="#000" stroke-width="1.8"/>
<text transform="translate(1021.27,2071.30)" font-size="19.57">30</text>
<line x1="1331.70" x2="1331.70" y1="2043.10" y2="2049.70" stroke="#000" stroke-width="1.8"/>
<text transform="translate(1319.45,2071.30)" font-size="19.57">40</text>
<line x1="1629.60" x2="1629.60" y1="2043.10" y2="2049.70" stroke="#000" stroke-width="1.8"/>
<text transform="translate(1617.07,2071.30)" font-size="19.57">50</text>
<line x1="86.60" x2="93.20" y1="1693.02" y2="1693.02" stroke="#000" stroke-width="1.8"/>
<text transform="translate(49.16,1700.32)" font-size="19.57">0.6</text>
<line x1="86.60" x2="93.20" y1="1763.18" y2="1763.18" stroke="#000" stroke-width="1.8"/>
<text transform="translate(49.04,1770.48)" font-size="19.57">0.4</text>
<line x1="86.60" x2="93.20" y1="1833.34" y2="1833.34" stroke="#000" stroke-width="1.8"/>
<text transform="translate(49.91,1840.64)" font-size="19.57">0.2</text>
<line x1="86.60" x2="93.20" y1="1903.50" y2="1903.50" stroke="#000" stroke-width="1.8"/>
<text transform="translate(49.29,1910.80)" font-size="19.57">0.0</text>
<line x1="86.60" x2="93.20" y1="1973.66" y2="1973.66" stroke="#000" stroke-width="1.8"/>
<text transform="translate(33.54,1980.96)" font-size="19.57">−0.2</text>
<text transform="translate(733.01,1611.95)" font-size="23.5">Maximum Normalized Waking HR</text>
<text transform="translate(856.22,2097.30)" font-size="19.57">Calendar week</text>
<text transform="translate(20.80,1923.47) rotate(-90)" font-size="19.57">Model Coefficients</text>
<rect x="1398.1" y="1636.75" width="345.7" height="68.0" rx="10.5" ry="10.5" fill="#d3d3d3" stroke="#000" stroke-width="2"/>
<text transform="translate(1524.14,1659.15)" font-size="19.57">Intercept=5.68±0.25</text>
<text transform="translate(1409.80,1684.65)" font-size="19.57" font-style="italic">R</text>
<text transform="translate(1424.90,1676.85)" font-size="14.0">2</text>
<text transform="translate(1422.85,1689.55)" font-size="14.0">marginal</text>
<text transform="translate(1484.94,1684.65)" font-size="19.57">=0.304,</text>
<text transform="translate(1569.80,1684.65)" font-size="19.57" font-style="italic">R</text>
<text transform="translate(1585.60,1676.85)" font-size="14.0">2</text>
<text transform="translate(1583.35,1689.55)" font-size="14.0">conditional</text>
<text transform="translate(1660.26,1684.65)" font-size="19.57">=0.642</text>
</svg>
</body></html>
